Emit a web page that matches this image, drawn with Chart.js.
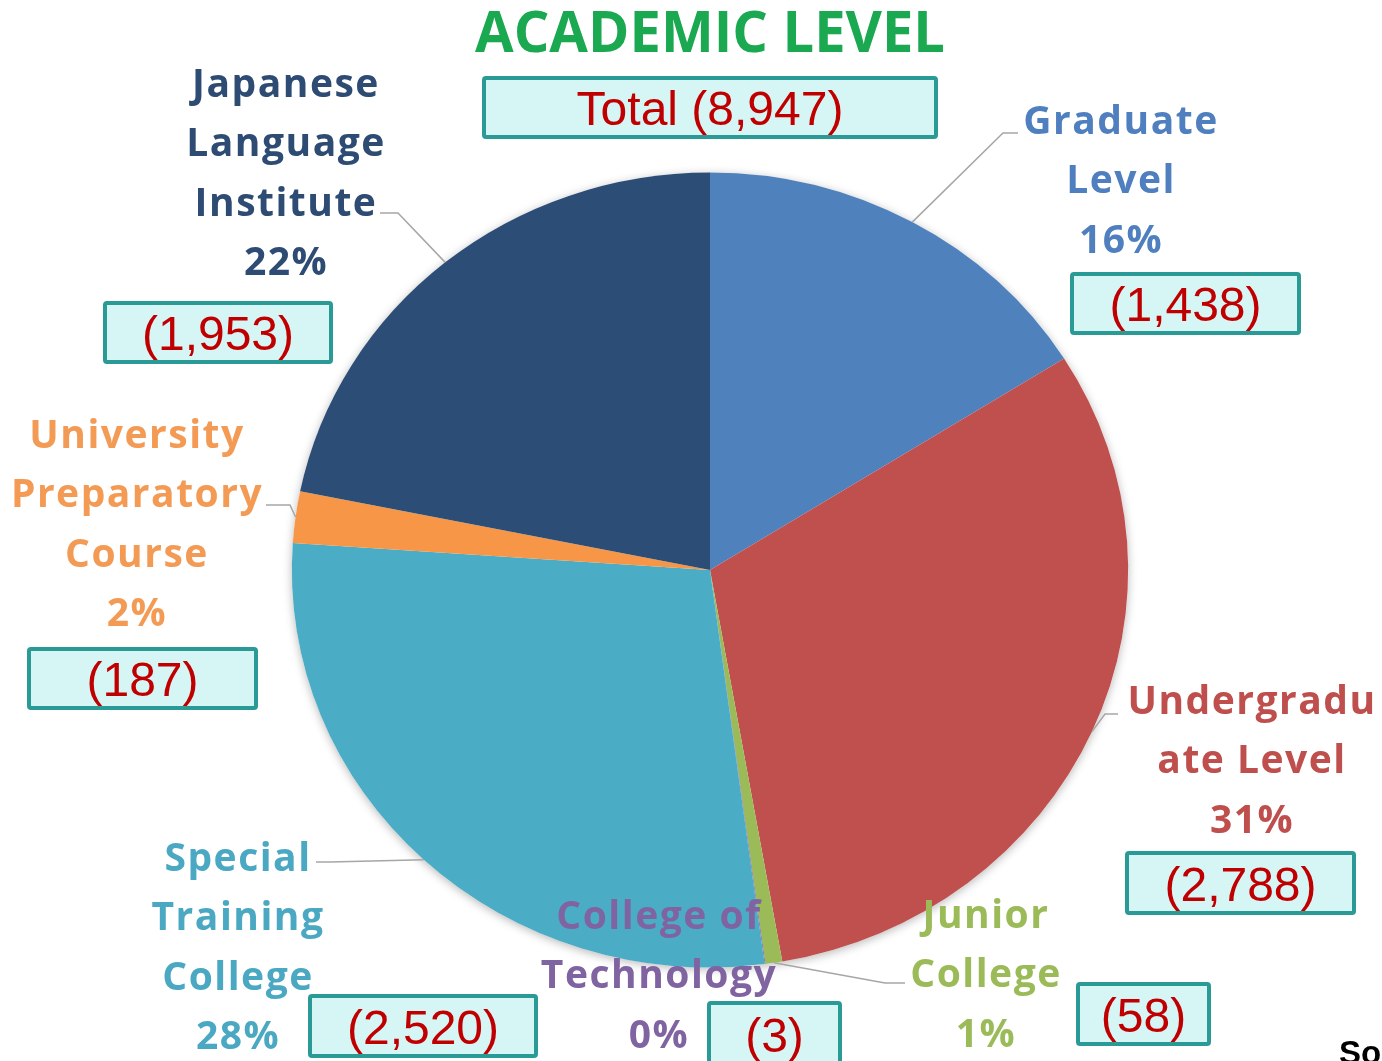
<!DOCTYPE html>
<html><head><meta charset="utf-8">
<script src="https://cdn.jsdelivr.net/npm/chart.js@4/dist/chart.umd.min.js"></script>
<style>html,body{margin:0;padding:0;background:#fff;overflow:hidden}</style>
</head><body>
<canvas id="c" width="1382" height="1061"></canvas>
<script>
// ---- data ----
const categories = ['Graduate Level','Undergraduate Level','Junior College','College of Technology','Special Training College','University Preparatory Course','Japanese Language Institute'];
const nameLines = [['Graduate','Level'],['Undergradu','ate Level'],['Junior','College'],['College of','Technology'],['Special','Training','College'],['University','Preparatory','Course'],['Japanese','Language','Institute']];
const counts = [1438, 2788, 58, 3, 2520, 187, 1953];
const titleText = 'ACADEMIC LEVEL';
const totalPrefix = 'Total';
const sourceText = 'Source';

// ---- styles ----
const sliceColors = ['#4F81BD','#C0504D','#9BBB59','#8064A2','#4BACC6','#F79646','#2C4D75'];
const textColors = ['#4F7FBF','#BE4F4D','#9BBB59','#8064A2','#4AA8C2','#F39B55','#2D4B73'];

const total = counts.reduce((a,b)=>a+b,0);
const fmt = v => '(' + v.toLocaleString('en-US') + ')';

// layout for labels (positions only)
const labelLayout = [
  {cx:1120, y0:120, box:[1070,272,231,63], line:[[1018,133],[1003,133]]},
  {cx:1251, y0:700, box:[1125,851,231,64], line:[[1118,714],[1105,714]]},
  {cx:985,  y0:914, box:[1076,982,135,64], line:[[905,983],[885,983]]},
  {cx:658,  y0:915, box:[707,1001,135,66], line:null},
  {cx:237,  y0:857, box:[308,994,230,64], line:[[316,862],[330,862]]},
  {cx:136,  y0:434, box:[27,647,231,63],  line:[[266,505],[290,505]]},
  {cx:285,  y0:83,  box:[103,301,230,63], line:[[380,213],[398,213]]}
];
const LINE_H = 59.3;
const SX = 1.052;

function drawBox(ctx, b, text){
  const [x,y,w,h] = b;
  ctx.save();
  ctx.fillStyle = '#D6F5F5';
  ctx.strokeStyle = '#2A9A96';
  ctx.lineWidth = 4;
  ctx.beginPath();
  ctx.roundRect(x+2, y+2, w-4, h-4, 2);
  ctx.fill(); ctx.stroke();
  ctx.fillStyle = '#C00000';
  ctx.font = '48px "Liberation Sans", Arial, sans-serif';
  ctx.textAlign = 'center';
  ctx.textBaseline = 'alphabetic';
  ctx.fillText(text, x + w/2, y + h/2 + 17.5);
  ctx.restore();
}

const decor = {
  id: 'decor',
  beforeDatasetsDraw(chart){
    const ctx = chart.ctx;
    const a = chart.getDatasetMeta(0).data[0];
    ctx.save();
    ctx.translate(a.x, a.y);
    ctx.scale(SX, 1);
    ctx.translate(-a.x, -a.y);
    ctx.save();
    ctx.shadowColor = 'rgba(0,0,0,0.28)';
    ctx.shadowBlur = 10;
    ctx.shadowOffsetY = 2;
    ctx.fillStyle = '#ffffff';
    ctx.beginPath();
    ctx.arc(a.x, a.y, a.outerRadius, 0, Math.PI*2);
    ctx.fill();
    ctx.restore();
  },
  afterDatasetsDraw(chart){
    chart.ctx.restore();
  },
  afterDraw(chart){
    const ctx = chart.ctx;
    const meta = chart.getDatasetMeta(0);
    ctx.save();
    ctx.strokeStyle = '#A6A6A6';
    ctx.lineWidth = 1.5;
    meta.data.forEach((arc, i) => {
      const L = labelLayout[i];
      if (!L.line) return;
      const mid = (arc.startAngle + arc.endAngle)/2;
      const px = arc.x + Math.cos(mid)*arc.outerRadius*SX;
      const py = arc.y + Math.sin(mid)*arc.outerRadius;
      ctx.beginPath();
      ctx.moveTo(L.line[0][0], L.line[0][1]);
      ctx.lineTo(L.line[1][0], L.line[1][1]);
      ctx.lineTo(px, py);
      ctx.stroke();
    });
    ctx.restore();

    ctx.save();
    ctx.textAlign = 'center';
    ctx.textBaseline = 'alphabetic';
    ctx.font = 'bold 39px "Open Sans", sans-serif';
    try { ctx.letterSpacing = '1.5px'; } catch(e) {}
    categories.forEach((c, i) => {
      const L = labelLayout[i];
      const lines = nameLines[i].concat([Math.round(counts[i]/total*100) + '%']);
      ctx.fillStyle = textColors[i];
      lines.forEach((t, k) => {
        ctx.fillText(t, L.cx + 1, L.y0 + k*LINE_H + 14);
      });
    });
    ctx.restore();

    counts.forEach((v, i) => drawBox(ctx, labelLayout[i].box, fmt(v)));
    drawBox(ctx, [482,76,456,63], totalPrefix + ' ' + fmt(total));

    ctx.save();
    ctx.font = 'bold 58px "Open Sans", sans-serif';
    ctx.fillStyle = '#1AA850';
    ctx.textBaseline = 'alphabetic';
    const w = ctx.measureText(titleText).width;
    const target = 470;
    ctx.translate(475, 52);
    ctx.scale(target / w, 1);
    ctx.textAlign = 'left';
    ctx.fillText(titleText, 0, 0);
    ctx.restore();

    ctx.save();
    ctx.font = 'bold 33px "Liberation Sans", Arial, sans-serif';
    ctx.fillStyle = '#000';
    ctx.textAlign = 'left';
    ctx.fillText(sourceText, 1339, 1064);
    ctx.restore();
  }
};

new Chart(document.getElementById('c'), {
  type: 'pie',
  data: {
    labels: categories,
    datasets: [{
      data: counts,
      backgroundColor: sliceColors,
      borderWidth: 0,
      hoverOffset: 0,
      offset: 0
    }]
  },
  options: {
    responsive: false,
    animation: false,
    events: [],
    layout: { padding: { left: 200, right: 162, top: 172.5, bottom: 93.5 } },
    plugins: { legend: { display: false }, tooltip: { enabled: false }, title: { display: false } }
  },
  plugins: [decor]
});
</script>
</body></html>
